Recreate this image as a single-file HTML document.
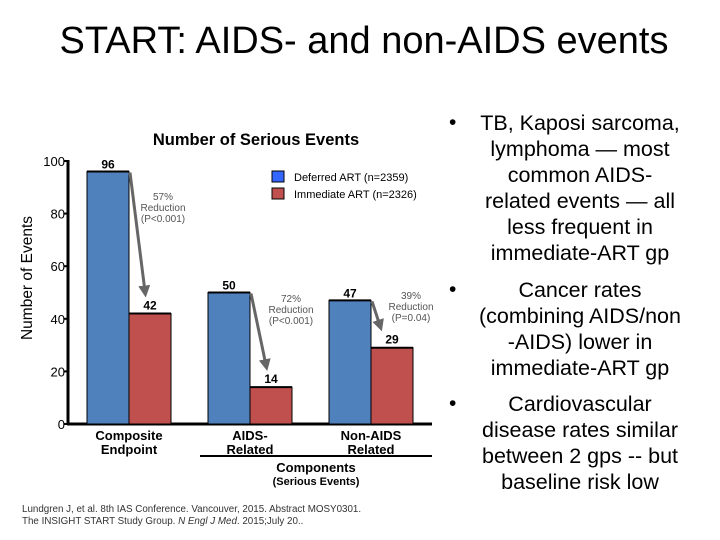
<!DOCTYPE html>
<html><head><meta charset="utf-8"><style>
body{margin:0;width:720px;height:540px;background:#fff;overflow:hidden;font-family:"Liberation Sans",sans-serif;position:relative}
.b{position:absolute;left:467px;width:226px;text-align:center;font-size:21.5px;line-height:26px;color:#000;white-space:nowrap}
.dot{position:absolute;left:449px;font-size:21px;line-height:26px}
</style></head><body>
<div style="position:absolute;left:0;width:728px;top:20px;text-align:center;font-size:38px">START: AIDS- and non-AIDS events</div>
<svg width="440" height="540" style="position:absolute;left:0;top:0" font-family="Liberation Sans, sans-serif">
<g id="g"></g>
</svg>
<div class="dot" style="top:110px">•</div>
<div class="b" style="top:110px">TB, Kaposi sarcoma,<br>lymphoma — most<br>common AIDS-<br>related events — all<br>less frequent in<br>immediate-ART gp</div>
<div class="dot" style="top:277px">•</div>
<div class="b" style="top:277px">Cancer rates<br>(combining AIDS/non<br>-AIDS) lower in<br>immediate-ART gp</div>
<div class="dot" style="top:391px">•</div>
<div class="b" style="top:391px">Cardiovascular<br>disease rates similar<br>between 2 gps -- but<br>baseline risk low</div>
<script>
const categories=[["Composite","Endpoint"],["AIDS-","Related"],["Non-AIDS","Related"]];
const deferred=[96,50,47];
const immediate=[42,14,29];
const reductions=[["57%","Reduction","(P<0.001)"],["72%","Reduction","(P<0.001)"],["39%","Reduction","(P=0.04)"]];
const yTicks=[0,20,40,60,80,100];
const NS="http://www.w3.org/2000/svg";
const g=document.getElementById('g');
const y0=424,pxu=2.63,ax=68;
const y=v=>y0-v*pxu;
const gx=i=>87+i*121;
function el(t,a,txt){const e=document.createElementNS(NS,t);for(const k in a)e.setAttribute(k,a[k]);if(txt!=null)e.textContent=txt;g.appendChild(e);return e;}
let e;
e=el('text',{x:256,y:145,'text-anchor':'middle','font-size':16.5,'font-weight':'bold'},'Number of Serious Events');


e=el('text',{x:0,y:0,transform:'translate(32,278) rotate(-90)','text-anchor':'middle','font-size':15.5},'Number of Events');


el('line',{x1:ax,y1:y(100)-1,x2:ax,y2:y0+1,stroke:'#000','stroke-width':3});
el('line',{x1:ax-1,y1:y0,x2:432,y2:y0,stroke:'#000','stroke-width':3});
yTicks.forEach(t=>{
 el('line',{x1:ax-4,y1:y(t),x2:ax,y2:y(t),stroke:'#000','stroke-width':2});
 e=el('text',{x:ax-3,y:y(t)+5,'text-anchor':'end','font-size':13},t);
 
 
});
el('defs',{}).innerHTML='<marker id="ah" markerWidth="4" markerHeight="4" refX="2" refY="2" orient="auto"><path d="M0,0L4,2L0,4z" fill="#666"/></marker>';
categories.forEach((c,i)=>{
 const x=gx(i),w=42;
 e=el('rect',{x:x,y:y(deferred[i]),width:w,height:y0-y(deferred[i]),fill:'#4f81bd',stroke:'#000','stroke-width':1});
 
 
 el('line',{x1:x,y1:y(deferred[i]),x2:x+w,y2:y(deferred[i]),stroke:'#000','stroke-width':2});
 e=el('rect',{x:x+w,y:y(immediate[i]),width:w,height:y0-y(immediate[i]),fill:'#c0504d',stroke:'#000','stroke-width':1});
 
 
 el('line',{x1:x+w,y1:y(immediate[i]),x2:x+2*w,y2:y(immediate[i]),stroke:'#000','stroke-width':2});
 el('text',{x:x+w/2,y:y(deferred[i])-3,'text-anchor':'middle','font-size':12,'font-weight':'bold'},deferred[i]);
 el('text',{x:x+w*1.5,y:y(immediate[i])-4,'text-anchor':'middle','font-size':12,'font-weight':'bold'},immediate[i]);
 el('line',{x1:x+w+1,y1:y(deferred[i])+1,x2:x+w+1+(i==2?8:15),y2:y(immediate[i])-22,stroke:'#666','stroke-width':3,'marker-end':'url(#ah)'});
 reductions[i].forEach((r,j)=>el('text',{x:x+w+(i==0?34:i==1?41:40),y:(i==0?200:i==1?302:299)+j*11,'text-anchor':'middle','font-size':10,fill:'#555'},r));
 c.forEach((l,j)=>{e=el('text',{x:x+w,y:440+j*14,'text-anchor':'middle','font-size':13,'font-weight':'bold'},l);
  
  });
});
el('line',{x1:200,y1:456,x2:432,y2:456,stroke:'#000','stroke-width':2});
el('text',{x:316,y:472,'text-anchor':'middle','font-size':13,'font-weight':'bold'},'Components');
el('text',{x:316,y:485,'text-anchor':'middle','font-size':11,'font-weight':'bold'},'(Serious Events)');
e=el('rect',{x:272,y:171,width:12,height:11,fill:'#3366ff',stroke:'#000'});


e=el('rect',{x:272,y:188,width:12,height:11,fill:'#c0504d',stroke:'#000'});


el('text',{x:294,y:181,'font-size':11},'Deferred ART (n=2359)');
el('text',{x:294,y:198,'font-size':11},'Immediate ART (n=2326)');
el('text',{x:22,y:512,'font-size':9.8,fill:'#333'},'Lundgren J, et al. 8th IAS Conference. Vancouver, 2015. Abstract MOSY0301.');
el('text',{x:22,y:524,'font-size':9.8,fill:'#333'}).innerHTML='The INSIGHT START Study Group. <tspan font-style="italic">N Engl J Med</tspan>. 2015;July 20..';
</script>
</body></html>
